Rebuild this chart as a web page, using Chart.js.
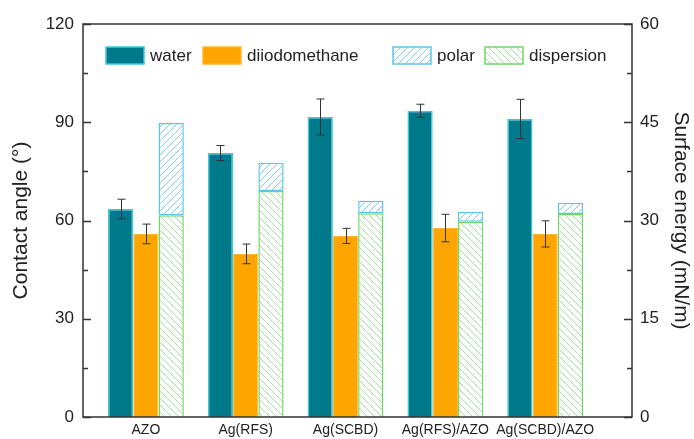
<!DOCTYPE html>
<html lang="en">
<head>
  <meta charset="UTF-8">
  <title>Contact angle and surface energy</title>
  <script src="https://cdn.jsdelivr.net/npm/chart.js"></script>
  <style>
    body {
      margin: 0;
      background: #fff;
    }
    canvas {
      display: block;
    }
  </style>
</head>
<body>

  <canvas id="grafico" width="694" height="439"></canvas>

  <script>
    // values
    const categories = ['AZO', 'Ag(RFS)', 'Ag(SCBD)', 'Ag(RFS)/AZO', 'Ag(SCBD)/AZO'];
    const water = [63.5, 80.6, 91.6, 93.5, 91.0];
    const waterErr = [3.0, 2.3, 5.5, 2.0, 6.0];
    const diiodomethane = [55.9, 49.8, 55.3, 57.7, 55.9];
    const diiodomethaneErr = [3.0, 3.0, 2.3, 4.2, 4.0];
    const dispersion = [30.8, 34.5, 31.1, 29.8, 31.0];
    const polar = [14.1, 4.3, 1.9, 1.5, 1.7];
    const angleTicks = [0, 30, 60, 90, 120];
    const energyTicks = [0, 15, 30, 45, 60];

    const FONT = 'Liberation Sans, Arial, sans-serif';
    const ctx = document.getElementById('grafico').getContext('2d');

    function hatch(color, up) {
      const s = 7;
      const c = document.createElement('canvas');
      c.width = c.height = s;
      const g = c.getContext('2d');
      g.fillStyle = '#fff';
      g.fillRect(0, 0, s, s);
      g.strokeStyle = color;
      g.lineWidth = 1;
      g.beginPath();
      if (up) {
        g.moveTo(0, s); g.lineTo(s, 0);
        g.moveTo(-1, 1); g.lineTo(1, -1);
        g.moveTo(s - 1, s + 1); g.lineTo(s + 1, s - 1);
      } else {
        g.moveTo(0, 0); g.lineTo(s, s);
        g.moveTo(-1, s - 1); g.lineTo(1, s + 1);
        g.moveTo(s - 1, -1); g.lineTo(s + 1, 1);
      }
      g.stroke();
      return ctx.createPattern(c, 'repeat');
    }

    const pts = arr => arr.map((v, i) => ({ x: i, y: v }));

    // error bars, inner ticks, frame and legend
    const extras = {
      id: 'extras',
      afterDatasetsDraw(chart) {
        const c = chart.ctx;
        c.save();
        c.strokeStyle = '#333';
        c.lineWidth = 1;
        chart.data.datasets.forEach((ds, di) => {
          if (!ds.errors) return;
          const meta = chart.getDatasetMeta(di);
          const sc = chart.scales[ds.yAxisID];
          meta.data.forEach((bar, i) => {
            const v = ds.data[i].y, e = ds.errors[i];
            const x = Math.round(bar.x) + 0.5;
            const y1 = sc.getPixelForValue(v + e), y2 = sc.getPixelForValue(v - e);
            c.beginPath();
            c.moveTo(x, y1); c.lineTo(x, y2);
            c.moveTo(x - 4, y1); c.lineTo(x + 4, y1);
            c.moveTo(x - 4, y2); c.lineTo(x + 4, y2);
            c.stroke();
          });
        });
        c.restore();
      },
      afterDraw(chart) {
        const c = chart.ctx;
        const a = chart.chartArea;
        c.save();
        c.strokeStyle = '#333';
        c.lineWidth = 1.5;
        c.strokeRect(a.left, a.top, a.right - a.left, a.bottom - a.top);

        // inner ticks
        const y = chart.scales.y, y1 = chart.scales.y1;
        c.beginPath();
        for (let v = 0; v <= 120; v += 15) {
          const p = Math.round(y.getPixelForValue(v)) + 0.5;
          const len = v % 30 === 0 ? 8 : 5;
          c.moveTo(a.left, p); c.lineTo(a.left + len, p);
        }
        for (let v = 0; v <= 60; v += 7.5) {
          const p = Math.round(y1.getPixelForValue(v)) + 0.5;
          const len = v % 15 === 0 ? 8 : 5;
          c.moveTo(a.right, p); c.lineTo(a.right - len, p);
        }
        c.stroke();

        // legend inside the plot
        const order = [0, 1, 3, 2];
        const offs = [23, 120, 310, 402];
        const ly = a.top + 23;
        c.font = '17px ' + FONT;
        c.textBaseline = 'middle';
        order.forEach((di, k) => {
          const ds = chart.data.datasets[di];
          const bx = a.left + offs[k];
          c.fillStyle = ds.backgroundColor;
          c.fillRect(bx, ly, 38, 17);
          c.strokeStyle = ds.borderColor;
          c.lineWidth = 1.5;
          c.strokeRect(bx, ly, 38, 17);
          c.fillStyle = '#222';
          c.fillText(ds.label, bx + 44, ly + 9);
        });
        c.restore();
      }
    };

    new Chart(ctx, {
      type: 'bar',
      data: {
        datasets: [
          {
            label: 'water',
            data: pts(water),
            errors: waterErr,
            yAxisID: 'y',
            stack: 'water',
            backgroundColor: '#00798a',
            borderColor: '#3cc9dc',
            borderWidth: 1.5
          },
          {
            label: 'diiodomethane',
            data: pts(diiodomethane),
            errors: diiodomethaneErr,
            yAxisID: 'y',
            stack: 'diiodo',
            backgroundColor: '#ffa500',
            borderColor: '#ffb733',
            borderWidth: 1
          },
          {
            label: 'dispersion',
            data: pts(dispersion),
            yAxisID: 'y1',
            stack: 'energy',
            backgroundColor: hatch('#9fe09a', false),
            borderColor: '#72d865',
            borderWidth: 1.5
          },
          {
            label: 'polar',
            data: pts(polar),
            yAxisID: 'y1',
            stack: 'energy',
            backgroundColor: hatch('#7ccdee', true),
            borderColor: '#5cc6ea',
            borderWidth: 1.5,
            borderSkipped: false
          }
        ]
      },
      options: {
        responsive: false,
        animation: false,
        layout: { padding: { top: 24 } },
        datasets: {
          bar: { categoryPercentage: 0.76, barPercentage: 1.0 }
        },
        plugins: {
          legend: { display: false },
          tooltip: { enabled: false }
        },
        scales: {
          x: {
            type: 'linear',
            offset: false,
            min: -0.63,
            max: 4.87,
            grid: { display: false, drawTicks: false },
            border: { display: false },
            afterBuildTicks: s => { s.ticks = categories.map((_, i) => ({ value: i })); },
            afterFit: s => { s.height = 22; },
            ticks: {
              autoSkip: false,
              maxRotation: 0,
              padding: 5,
              color: '#222',
              font: { family: FONT, size: 14 },
              callback: v => categories[v]
            }
          },
          y: {
            position: 'left',
            min: 0,
            max: 120,
            grid: { display: false, drawTicks: false },
            border: { display: false },
            afterBuildTicks: s => { s.ticks = angleTicks.map(v => ({ value: v })); },
            afterFit: s => { s.width = 83; },
            ticks: {
              padding: 9,
              color: '#222',
              font: { family: FONT, size: 17 }
            },
            title: {
              display: true,
              text: 'Contact angle (°)',
              color: '#222',
              padding: { top: 9, bottom: 0 },
              font: { family: FONT, size: 21 }
            }
          },
          y1: {
            position: 'right',
            min: 0,
            max: 60,
            grid: { display: false, drawTicks: false },
            border: { display: false },
            afterBuildTicks: s => { s.ticks = energyTicks.map(v => ({ value: v })); },
            afterFit: s => { s.width = 62; },
            ticks: {
              padding: 8,
              color: '#222',
              font: { family: FONT, size: 17 }
            },
            title: {
              display: true,
              text: 'Surface energy (mN/m)',
              color: '#222',
              padding: { top: 1, bottom: 0 },
              font: { family: FONT, size: 21 }
            }
          }
        }
      },
      plugins: [extras]
    });
  </script>

</body>
</html>
